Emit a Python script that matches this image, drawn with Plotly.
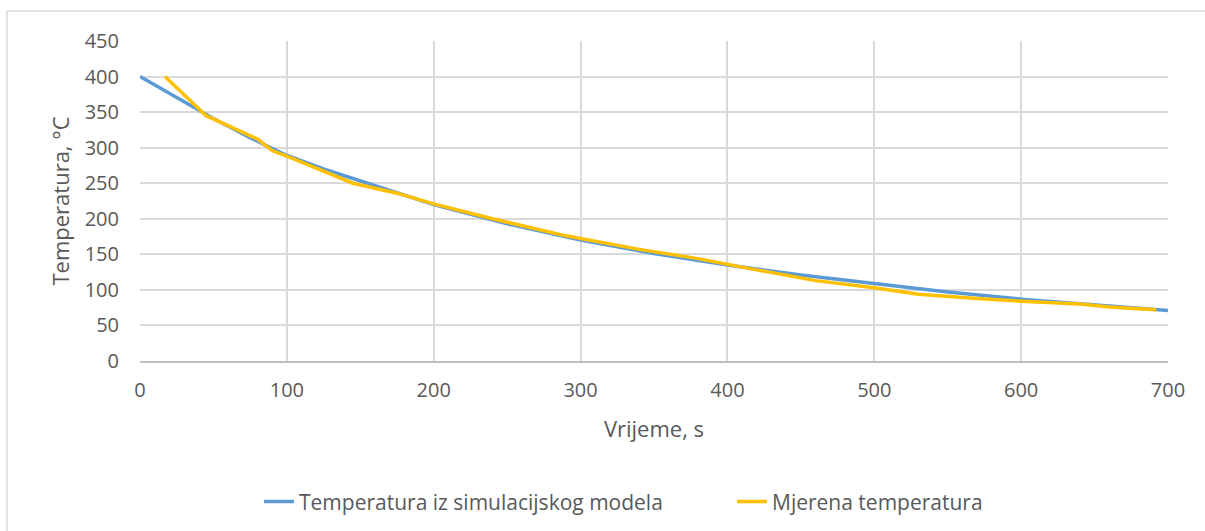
import plotly.graph_objects as go

# Simulated cooling curve (time in s, temperature in °C)
sim_time = [0, 25, 50, 75, 100, 125, 150, 175, 200, 250, 300, 350, 400, 450, 500, 550, 600, 650, 700]
sim_temp = [400, 370, 341, 314, 289, 270, 253, 236, 220, 193, 170, 151, 135, 121, 109, 97, 87, 79, 71]

# Measured temperature
meas_time = [17, 45, 80, 90, 105, 145, 175, 200, 240, 290, 340, 380, 410, 460, 500, 530, 570, 600, 640, 660, 692]
meas_temp = [400, 345, 312, 296, 284, 250, 236, 221, 200, 176, 157, 144, 132, 113, 103, 94, 88, 84, 80, 76, 72]

x_ticks = [0, 100, 200, 300, 400, 500, 600, 700]
y_ticks = [0, 50, 100, 150, 200, 250, 300, 350, 400, 450]

FONT = "Open Sans"
TXT = "#595959"
GRID = "#d9d9d9"

fig = go.Figure()
fig.add_trace(go.Scatter(
    x=sim_time, y=sim_temp, mode="lines",
    name="Temperatura iz simulacijskog modela",
    line=dict(color="#5b9bd5", width=3.5),
    legend="legend",
))
fig.add_trace(go.Scatter(
    x=meas_time, y=meas_temp, mode="lines",
    name="Mjerena temperatura",
    line=dict(color="#ffc000", width=3.5),
    legend="legend2",
))

legend_style = dict(
    orientation="h", y=-0.44, yanchor="middle",
    font=dict(family=FONT, size=21, color=TXT),
    xanchor="left", bgcolor="rgba(0,0,0,0)",
)

fig.update_layout(
    width=1205, height=531,
    margin=dict(l=140, r=37, t=41, b=170, autoexpand=False),
    paper_bgcolor="white", plot_bgcolor="white",
    font=dict(family=FONT, size=20, color=TXT),
    showlegend=True,
    legend=dict(x=(259 - 140) / 1028, **legend_style),
    legend2=dict(x=(732 - 140) / 1028, **legend_style),
    xaxis=dict(
        range=[0, 700], tickvals=x_ticks, showgrid=True, gridcolor=GRID, gridwidth=1.5,
        zeroline=False, showline=True, linecolor="#bfbfbf", linewidth=1.5,
        ticks="", ticklabelstandoff=10,
        tickfont=dict(family=FONT, size=20, color=TXT),
        title=dict(text="Vrijeme, s", font=dict(family=FONT, size=22, color=TXT), standoff=20),
    ),
    yaxis=dict(
        range=[0, 450], tickvals=y_ticks, showgrid=True, gridcolor=GRID, gridwidth=1.5,
        zeroline=False, showline=False,
        ticks="", ticklabelstandoff=20,
        tickfont=dict(family=FONT, size=20, color=TXT),
        title=dict(text="Temperatura, °C", font=dict(family=FONT, size=22, color=TXT), standoff=8),
    ),
)

# Chart frame (top and left edges visible)
fig.add_shape(type="line", xref="paper", yref="paper",
              x0=(7 - 140) / 1028, x1=(1210 - 140) / 1028,
              y0=(361 - 11) / 320, y1=(361 - 11) / 320,
              line=dict(color="#d9d9d9", width=1.5))
fig.add_shape(type="line", xref="paper", yref="paper",
              x0=(7 - 140) / 1028, x1=(7 - 140) / 1028,
              y0=(361 - 11) / 320, y1=(361 - 540) / 320,
              line=dict(color="#d9d9d9", width=1.5))

fig.write_html("out.html")
